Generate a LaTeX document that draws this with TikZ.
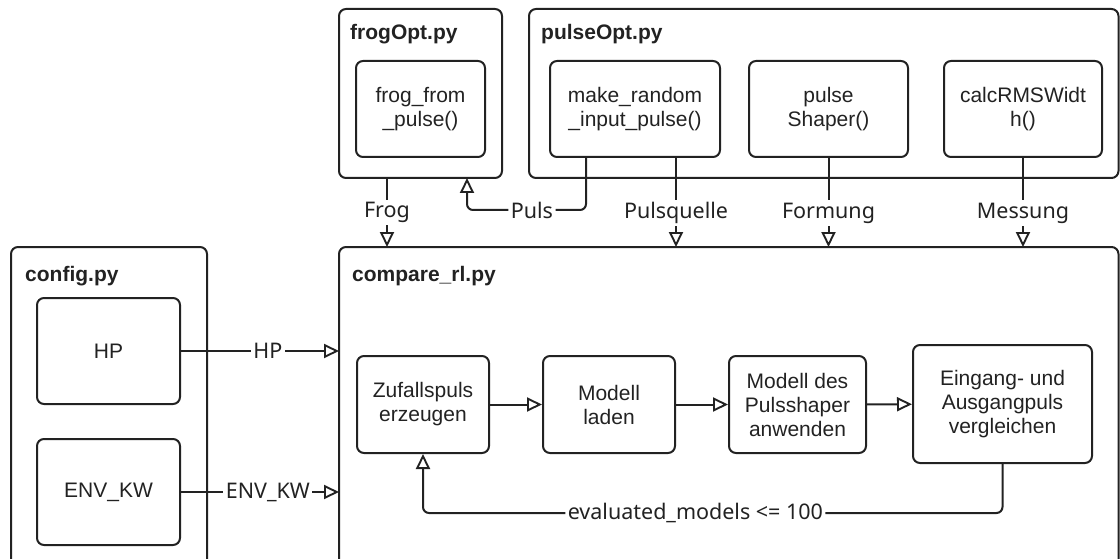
\documentclass[tikz,border=0pt]{standalone}
\usepackage{fontspec}
\setmainfont{Liberation Sans}
\newfontfamily\edgefont{Noto Sans}
\usetikzlibrary{arrows.meta,calc}
\definecolor{ink}{HTML}{222222}
\begin{document}
\begin{tikzpicture}[x=1pt,y=-1pt,
  every node/.style={text=ink},
  opentip/.tip={Triangle[open,length=15pt,width=14pt,line width=1.9pt]},
  container/.style={draw=ink,line width=2pt,rounded corners=7pt},
  fnbox/.style={draw=ink,line width=2pt,rounded corners=7pt,rectangle,align=center,
    inner sep=0pt,font=\fontsize{21}{24}\selectfont},
  title/.style={anchor=west,inner sep=0pt,font=\fontsize{21}{24}\selectfont\bfseries},
  link/.style={draw=ink,line width=2pt,-opentip},
  bent/.style={draw=ink,line width=2pt,rounded corners=6pt,-opentip},
  elabel/.style={fill=white,inner sep=2.5pt,font=\edgefont\fontsize{21.5}{24}\selectfont}]
\useasboundingbox (0,0) rectangle (1120,559);
\clip (0,0) rectangle (1120,559);

% module containers
\draw[container] (339,9) rectangle (502,178);
\draw[container] (529,9) rectangle (1118.5,178);
\draw[container] (11,247) rectangle (207,580);
\draw[container] (339,247) rectangle (1118.5,580);
\coordinate (frogOpt) at (420.5,178);
\coordinate (compareTop) at (728,247);
\coordinate (compareLeft) at (339,400);

\node[title] (tfrog) at (350,34) {frogOpt.py};
\node[title] (tpulse) at (541,34) {pulseOpt.py};
\node[title] (tconfig) at (25,276) {config.py};
\node[title] (tcompare) at (352,276) {compare\_rl.py};

% functions in frogOpt.py and pulseOpt.py
\node[fnbox,minimum width=129pt,minimum height=96pt] (frogfn) at (420.5,109) {frog\_from\\\_pulse()};
\node[fnbox,minimum width=170pt,minimum height=96pt] (mkpulse) at (635,109) {make\_random\\\_input\_pulse()};
\node[fnbox,minimum width=159pt,minimum height=96pt] (shaper) at (828.5,109) {pulse\\Shaper()};
\node[fnbox,minimum width=158pt,minimum height=96pt] (rms) at (1023,109) {calcRMSWidt\\h()};

% settings in config.py
\node[fnbox,minimum width=143pt,minimum height=106pt] (hp) at (108.5,351) {HP};
\node[fnbox,minimum width=143pt,minimum height=106pt] (envkw) at (108.5,492) {ENV\_KW};

% steps in compare_rl.py
\node[fnbox,minimum width=132pt,minimum height=97pt] (zufall) at (423,404.5) {Zufallspuls\\erzeugen};
\node[fnbox,minimum width=132pt,minimum height=97pt] (laden) at (609,404.5) {Modell\\laden};
\node[fnbox,minimum width=137pt,minimum height=97pt] (anwenden) at (797.5,404.5) {Modell des\\Pulsshaper\\anwenden};
\node[fnbox,minimum width=179pt,minimum height=118pt] (vergleich) at (1002.5,404) {Eingang- und\\Ausgangpuls\\vergleichen};

% column positions of the vertical links
\coordinate (xfrog) at (387,0);
\coordinate (xpuls) at (586,0);
\coordinate (xquelle) at (676,0);
\coordinate (xback) at (467,0);

% links from the modules into compare_rl.py
\draw[link] (frogOpt -| xfrog) -- node[elabel,pos=0.5] {Frog} (compareTop -| xfrog);
\draw[bent] (mkpulse.south -| xpuls) |- node[elabel,pos=0.727] {Puls} (xback |- 0,210) -- (frogOpt -| xback);
\draw[link] (mkpulse.south -| xquelle) -- node[elabel,pos=0.62] {Pulsquelle} (compareTop -| xquelle);
\draw[link] (shaper.south) -- node[elabel,pos=0.62] {Formung} (compareTop -| shaper);
\draw[link] (rms.south) -- node[elabel,pos=0.62] {Messung} (compareTop -| rms);

\draw[link] (hp.east) -- node[elabel,pos=0.55] {HP} (compareLeft |- hp.east);
\draw[link] (envkw.east) -- node[elabel,pos=0.55] {ENV\_KW} (compareLeft |- envkw.east);

% processing chain
\draw[link] (zufall) -- (laden);
\draw[link] (laden) -- (anwenden);
\draw[link] (anwenden) -- (vergleich);
\draw[bent] (vergleich.south) |- node[elabel,pos=0.765] {evaluated\_models <= 100} (zufall.south |- 0,513) -- (zufall.south);
\end{tikzpicture}
\end{document}
